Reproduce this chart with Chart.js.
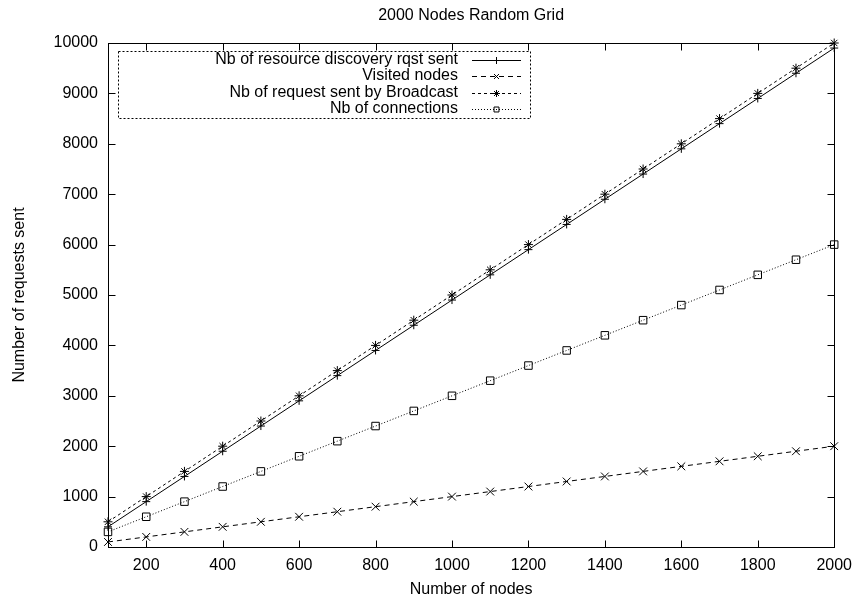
<!DOCTYPE html>
<html>
<head>
<meta charset="utf-8">
<script src="https://cdn.jsdelivr.net/npm/chart.js@4.4.1/dist/chart.umd.min.js"></script>
<style>
  html, body { margin: 0; padding: 0; background: #fff; }
  #wrap { width: 861px; height: 599px; }
</style>
</head>
<body>
<div id="wrap"><canvas id="c" width="861" height="599"></canvas></div>
<script>
const titleText = "2000 Nodes Random Grid";
const xTitle = "Number of nodes";
const yTitle = "Number of requests sent";

const nodes = [100,200,300,400,500,600,700,800,900,1000,1100,1200,1300,1400,1500,1600,1700,1800,1900,2000];
const rqstSent = [400,900,1400,1900,2400,2900,3400,3900,4400,4900,5400,5900,6400,6900,7400,7900,8400,8900,9400,9900];
const visitedNodes = [100,200,300,400,500,600,700,800,900,1000,1100,1200,1300,1400,1500,1600,1700,1800,1900,2000];
const broadcastSent = [500,1000,1500,2000,2500,3000,3500,4000,4500,5000,5500,6000,6500,7000,7500,8000,8500,9000,9500,10000];
const connections = [300,600,900,1200,1500,1800,2100,2400,2700,3000,3300,3600,3900,4200,4500,4800,5100,5400,5700,6000];

const seriesNames = ["Nb of resource discovery rqst sent", "Visited nodes", "Nb of request sent by Broadcast", "Nb of connections"];
const xTicks = [200,400,600,800,1000,1200,1400,1600,1800,2000];
const yTicks = [0,1000,2000,3000,4000,5000,6000,7000,8000,9000,10000];

const FONT = "'Liberation Sans', Arial, Helvetica, sans-serif";
Chart.defaults.font.family = FONT;
Chart.defaults.font.size = 16;
Chart.defaults.color = '#000';

function pts(ys) { return nodes.map((x, i) => ({ x: x, y: ys[i] })); }

const styles = [
  { dash: [], point: 'cross', r: 4 },
  { dash: [5, 4], point: 'crossRot', r: 5.5 },
  { dash: [3, 3], point: 'star', r: 4.5 },
  { dash: [1, 2], point: 'rect', r: 5.3 }
];
const values = [rqstSent, visitedNodes, broadcastSent, connections];

const datasets = values.map((v, i) => ({
  label: seriesNames[i],
  data: pts(v),
  borderColor: '#000',
  backgroundColor: 'rgba(0,0,0,0)',
  borderWidth: 1,
  borderDash: styles[i].dash,
  pointStyle: styles[i].point,
  pointRadius: styles[i].r,
  pointBorderColor: '#000',
  pointBackgroundColor: 'rgba(0,0,0,0)',
  pointBorderWidth: 1,
  tension: 0,
  clip: false
}));

function drawMarker(ctx, style, x, y, r) {
  ctx.beginPath();
  const d = Math.SQRT1_2 * r;
  if (style === 'cross' || style === 'star') {
    ctx.moveTo(x - r, y); ctx.lineTo(x + r, y);
    ctx.moveTo(x, y - r); ctx.lineTo(x, y + r);
  }
  if (style === 'crossRot' || style === 'star') {
    ctx.moveTo(x - d, y - d); ctx.lineTo(x + d, y + d);
    ctx.moveTo(x - d, y + d); ctx.lineTo(x + d, y - d);
  }
  if (style === 'rect') {
    ctx.rect(x - d, y - d, 2 * d, 2 * d);
  }
  ctx.stroke();
}

const framePlugin = {
  id: 'frame',
  beforeDatasetsDraw(chart) {
    const { ctx, chartArea: a, scales } = chart;
    const L = Math.round(a.left) + 0.5, R = Math.round(a.right) + 0.5;
    const T = Math.round(a.top) + 0.5, B = Math.round(a.bottom) + 0.5;
    ctx.save();
    ctx.strokeStyle = '#000';
    ctx.lineWidth = 1;
    ctx.setLineDash([]);
    ctx.strokeRect(L, T, R - L, B - T);
    const tl = 7;
    ctx.beginPath();
    xTicks.forEach(v => {
      const px = Math.round(scales.x.getPixelForValue(v)) + 0.5;
      ctx.moveTo(px, B); ctx.lineTo(px, B - tl);
      ctx.moveTo(px, T); ctx.lineTo(px, T + tl);
    });
    yTicks.forEach(v => {
      const py = Math.round(scales.y.getPixelForValue(v)) + 0.5;
      ctx.moveTo(L, py); ctx.lineTo(L + tl, py);
      ctx.moveTo(R, py); ctx.lineTo(R - tl, py);
    });
    ctx.stroke();
    // title centred over the plot area
    ctx.font = "16px " + FONT;
    ctx.fillStyle = '#000';
    ctx.textAlign = 'center';
    ctx.textBaseline = 'middle';
    ctx.fillText(titleText, (a.left + a.right) / 2, 16);
    ctx.restore();
  }
};

const legendPlugin = {
  id: 'gpLegend',
  afterDraw(chart) {
    const ctx = chart.ctx;
    const box = { l: 118, r: 530, t: 51, b: 118 };
    const rows = [59.5, 76, 92.5, 109];
    ctx.save();
    ctx.strokeStyle = '#000';
    ctx.lineWidth = 1;
    ctx.setLineDash([2, 2]);
    ctx.strokeRect(box.l + 0.5, box.t + 0.5, box.r - box.l, box.b - box.t);
    ctx.font = "16px " + FONT;
    ctx.fillStyle = '#000';
    ctx.textAlign = 'right';
    ctx.textBaseline = 'middle';
    chart.data.datasets.forEach((ds, i) => {
      const y = rows[i];
      ctx.fillText(ds.label, 458, y);
      ctx.setLineDash(ds.borderDash);
      ctx.beginPath();
      ctx.moveTo(472, Math.round(y) + 0.5);
      ctx.lineTo(521, Math.round(y) + 0.5);
      ctx.stroke();
      ctx.setLineDash([]);
      drawMarker(ctx, ds.pointStyle, 496.5, Math.round(y) + 0.5, 3.5);
    });
    ctx.restore();
  }
};

new Chart(document.getElementById('c'), {
  type: 'line',
  data: { datasets: datasets },
  options: {
    responsive: false,
    animation: false,
    devicePixelRatio: 1,
    layout: { padding: { left: 0, right: 22, top: 43, bottom: 0 } },
    plugins: {
      legend: { display: false },
      tooltip: { enabled: false },
      title: { display: false }
    },
    scales: {
      x: {
        type: 'linear',
        min: 100,
        max: 2000,
        afterBuildTicks: s => { s.ticks = xTicks.map(v => ({ value: v })); },
        afterFit: s => { s.height = 52; },
        grid: { display: false, drawTicks: false },
        border: { display: false },
        ticks: { padding: 9, maxRotation: 0, autoSkip: false, color: '#000', font: { size: 16 }, callback: v => String(v) },
        title: { display: true, text: xTitle, color: '#000', font: { size: 16 }, padding: { top: 0, bottom: 0 } }
      },
      y: {
        type: 'linear',
        min: 0,
        max: 10000,
        afterBuildTicks: s => { s.ticks = yTicks.map(v => ({ value: v })); },
        afterFit: s => { s.width = 108; },
        grid: { display: false, drawTicks: false },
        border: { display: false },
        ticks: { padding: 10, autoSkip: false, color: '#000', font: { size: 16 }, callback: v => String(v) },
        title: { display: true, text: yTitle, color: '#000', font: { size: 16 }, padding: { top: 10, bottom: 0 } }
      }
    }
  },
  plugins: [framePlugin, legendPlugin]
});
</script>
</body>
</html>
